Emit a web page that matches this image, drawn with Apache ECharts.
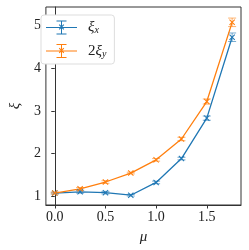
<!DOCTYPE html>
<html><head><meta charset="utf-8">
<script src="https://cdn.jsdelivr.net/npm/echarts@6/dist/echarts.min.js"></script>
<style>html,body{margin:0;padding:0;background:#fff}#c{width:249px;height:250px}</style>
</head><body><div id="c"></div>
<script>
const mu = [0, 0.25, 0.5, 0.75, 1.0, 1.25, 1.5, 1.75];
const xiX = [1.07, 1.10, 1.08, 1.02, 1.32, 1.88, 2.83, 4.73];
const xiXErr = [0.02, 0.03, 0.03, 0.02, 0.03, 0.03, 0.05, 0.10];
const xi2Y = [1.07, 1.17, 1.33, 1.54, 1.85, 2.34, 3.22, 5.08];
const xi2YErr = [0.02, 0.03, 0.03, 0.02, 0.03, 0.04, 0.06, 0.10];
const xTicks = [0, 0.5, 1.0, 1.5];
const yTicks = [1, 2, 3, 4, 5];
const names = ['xi_x', '2xi_y'];
const colors = ['#1f77b4', '#ff7f0e'];
const FONT = 'Liberation Serif';

const xMark = 'path://M0,1.2 L1.2,0 L10,8.8 L8.8,10 Z M8.8,0 L10,1.2 L1.2,10 L0,8.8 Z';
const legIcon = 'path://M0,6.5 L31,6.5 L31,7.5 L0,7.5 Z M15,0 L16,0 L16,14 L15,14 Z M10.5,0 L20.5,0 L20.5,1 L10.5,1 Z M10.5,13 L20.5,13 L20.5,14 L10.5,14 Z M12.8,4.6 L13.6,3.8 L18.2,8.4 L17.4,9.2 Z M17.4,3.8 L18.2,4.6 L13.6,9.2 L12.8,8.4 Z';

function errSeries(vals, errs, color) {
  return {
    type: 'custom', silent: true, z: 3,
    data: mu.map((m, i) => [m, vals[i] - errs[i], vals[i] + errs[i]]),
    renderItem: function (params, api) {
      const lo = api.coord([api.value(0), api.value(1)]);
      const hi = api.coord([api.value(0), api.value(2)]);
      const w = 4;
      const st = { stroke: color, lineWidth: 1, opacity: 0.6 };
      return { type: 'group', children: [
        { type: 'line', shape: { x1: lo[0], y1: lo[1], x2: hi[0], y2: hi[1] }, style: st },
        { type: 'line', shape: { x1: lo[0] - w, y1: lo[1], x2: lo[0] + w, y2: lo[1] }, style: st },
        { type: 'line', shape: { x1: hi[0] - w, y1: hi[1], x2: hi[0] + w, y2: hi[1] }, style: st }
      ]};
    }
  };
}

const chart = echarts.init(document.getElementById('c'), null, { renderer: 'canvas' });
chart.setOption({
  animation: false,
  grid: { left: 33, right: 8, top: 7, bottom: 40, show: true, borderColor: '#333', borderWidth: 1 },
  xAxis: {
    type: 'value', min: -0.0875, max: 1.8375,
    name: 'μ', nameLocation: 'middle', nameGap: 25,
    nameTextStyle: { fontFamily: FONT, fontStyle: 'italic', fontSize: 15, color: '#222' },
    axisLine: { show: true, lineStyle: { color: '#333' } },
    axisTick: { show: true, length: 3.5, customValues: xTicks, lineStyle: { color: '#333' } },
    axisLabel: { customValues: xTicks, formatter: v => v.toFixed(1), fontFamily: FONT, fontSize: 14, color: '#222', margin: 5 },
    splitLine: { show: false }
  },
  yAxis: {
    type: 'value', min: 0.79, max: 5.44,
    name: 'ξ', nameLocation: 'middle', nameGap: 22, nameRotate: 90,
    nameTextStyle: { fontFamily: FONT, fontStyle: 'italic', fontSize: 15, color: '#222' },
    axisLine: { show: true, lineStyle: { color: '#333' } },
    axisTick: { show: true, length: 3.5, customValues: yTicks, lineStyle: { color: '#333' } },
    axisLabel: { customValues: yTicks, formatter: v => String(v), fontFamily: FONT, fontSize: 14, color: '#222', margin: 5 },
    splitLine: { show: false }
  },
  legend: {
    orient: 'vertical', left: 41, top: 15, padding: [5, 8, 5, 5],
    itemWidth: 31, itemHeight: 14, itemGap: 8,
    backgroundColor: '#fff', borderColor: '#ddd', borderWidth: 1, borderRadius: 3,
    data: [
      { name: names[0], icon: legIcon, itemStyle: { color: colors[0] } },
      { name: names[1], icon: legIcon, itemStyle: { color: colors[1] } }
    ],
    formatter: function (n) {
      return n === names[0] ? '{i|ξ}{s|x}' : '{n|2}{i|ξ}{s|y}';
    },
    textStyle: {
      padding: [0, 0, 0, 6],
      rich: {
        i: { fontFamily: FONT, fontStyle: 'italic', fontSize: 15, color: '#222' },
        n: { fontFamily: FONT, fontSize: 15, color: '#222' },
        s: { fontFamily: FONT, fontStyle: 'italic', fontSize: 10, color: '#222', padding: [6, 0, 0, 0] }
      }
    }
  },
  series: [
    errSeries(xiX, xiXErr, colors[0]),
    errSeries(xi2Y, xi2YErr, colors[1]),
    { name: names[0], type: 'line', data: mu.map((m, i) => [m, xiX[i]]), symbol: xMark, symbolSize: 6,
      lineStyle: { color: colors[0], width: 1.3 }, itemStyle: { color: colors[0] }, z: 4 },
    { name: names[1], type: 'line', data: mu.map((m, i) => [m, xi2Y[i]]), symbol: xMark, symbolSize: 6,
      lineStyle: { color: colors[1], width: 1.3 }, itemStyle: { color: colors[1] }, z: 4 }
  ]
});
</script></body></html>
